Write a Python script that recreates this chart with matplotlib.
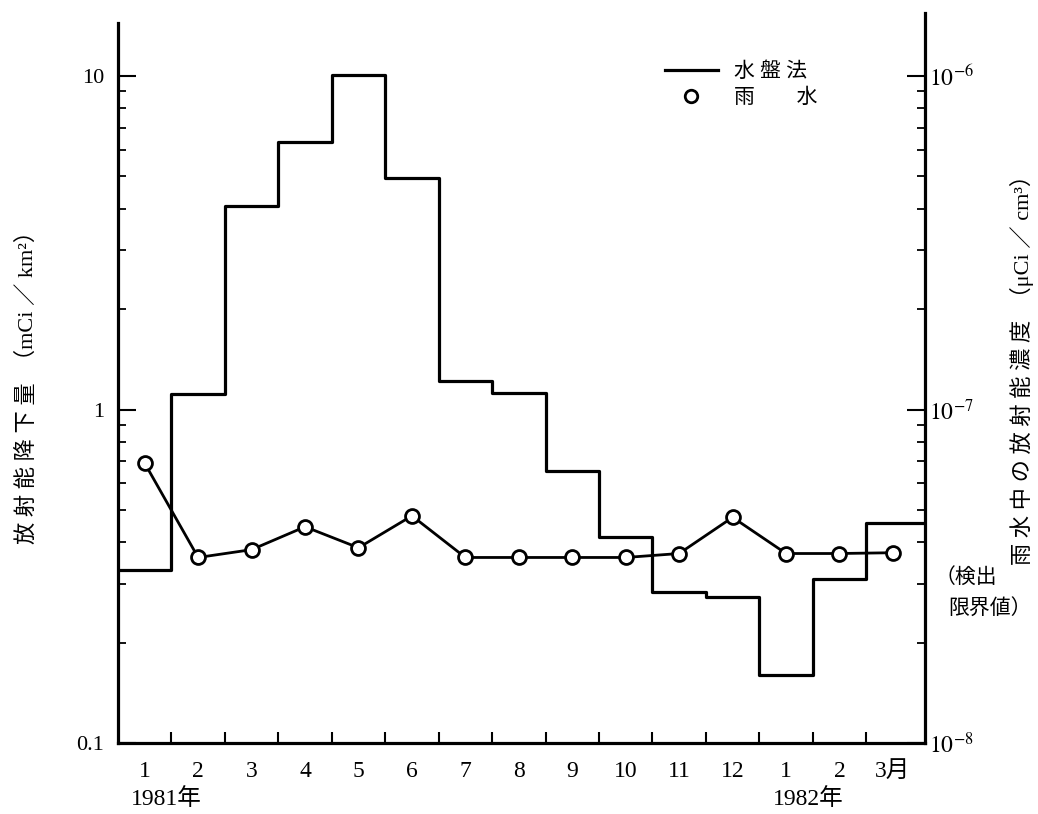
import numpy as np
import matplotlib
matplotlib.use("Agg")
import matplotlib.pyplot as plt
from matplotlib.lines import Line2D
from matplotlib.ticker import FixedLocator, NullFormatter, LogLocator

plt.rcParams['font.family'] = ['Liberation Serif', 'Noto Sans CJK JP']
plt.rcParams['mathtext.fontset'] = 'stix'

# 1981/1 .. 1982/3
months = np.arange(1, 16)
month_labels = ["1", "2", "3", "4", "5", "6", "7", "8", "9", "10", "11", "12", "1", "2", "3月"]
# 水盤法  mCi/km2
fallout = [0.33, 1.11, 4.07, 6.34, 10.1, 4.94, 1.22, 1.12, 0.655, 0.415, 0.284, 0.274, 0.16, 0.31, 0.457]
# 雨水  uCi/cm3
rain = [6.9e-8, 3.6e-8, 3.8e-8, 4.45e-8, 3.85e-8, 4.8e-8, 3.6e-8, 3.6e-8, 3.6e-8, 3.6e-8,
        3.7e-8, 4.75e-8, 3.7e-8, 3.7e-8, 3.72e-8]

x_lo, x_hi = 0.5, 15.6
y_lo, y_hi = 0.1, 15.45

fig = plt.figure(figsize=(10.38, 8.14), dpi=100)
ax = fig.add_axes([118/1038, 1-743/814, (925-118)/1038, (743-13)/814])
ax2 = ax.twinx()

edges = np.append(months - 0.5, x_hi)
ax.step(edges, fallout + [fallout[-1]], where='post', color='black', lw=2.3)
ax2.plot(months, rain, color='black', lw=2.0, marker='o', ms=10, mfc='white', mec='black', mew=2.0)

ax.set_xlim(x_lo, x_hi)
ax.set_yscale('log')
ax.set_ylim(y_lo, y_hi)
ax2.set_yscale('log')
ax2.set_ylim(y_lo*1e-7, y_hi*1e-7)

for a in (ax, ax2):
    for s in a.spines.values():
        s.set_linewidth(2.3)
    a.spines['top'].set_visible(False)
ax.spines['left'].set_bounds(y_lo, 14.4)
ax.spines['right'].set_visible(False)
ax2.spines['left'].set_visible(False)
ax2.spines['bottom'].set_visible(False)

# x ticks: boundaries as ticks, labels at month centers
ax.xaxis.set_major_locator(FixedLocator(months[:-1] + 0.5))
ax.xaxis.set_major_formatter(NullFormatter())
ax.xaxis.set_minor_locator(FixedLocator(months))
ax.set_xticklabels(month_labels, minor=True)
ax.tick_params(axis='x', which='major', direction='in', length=8, width=1.5)
ax.tick_params(axis='x', which='minor', length=0, pad=13, labelsize=17)

ax.set_yticks([0.1, 1, 10])
ax.set_yticklabels(["0.1", "1", "10"])
ax.yaxis.set_minor_locator(LogLocator(base=10, subs=np.arange(2, 10)))
ax.yaxis.set_minor_formatter(NullFormatter())
ax.tick_params(axis='y', which='major', direction='in', length=13, width=1.5, labelsize=16, pad=10)
ax.tick_params(axis='y', which='minor', direction='in', length=6, width=1.3)

ax2.set_yticks([1e-8, 1e-7, 1e-6])
ax2.set_yticklabels([r"$10^{-8}$", r"$10^{-7}$", r"$10^{-6}$"])
ax2.yaxis.set_minor_locator(LogLocator(base=10, subs=np.arange(2, 10)))
ax2.yaxis.set_minor_formatter(NullFormatter())
ax2.tick_params(axis='y', which='major', direction='in', length=13, width=1.5, labelsize=17, pad=3)
ax2.tick_params(axis='y', which='minor', direction='in', length=6, width=1.3)

ax.set_ylabel("放 射 能 降 下 量  （mCi ／ km²）", fontsize=16, va='center')
ax.yaxis.set_label_coords(-0.112, 0.495)
ax2.set_ylabel("雨 水 中 の 放 射 能 濃 度  （μCi ／ cm³）", fontsize=16, rotation=90, va='center')
ax2.yaxis.set_label_coords(1.12, 0.518)

fig.text(935/1038, 1-578/814, "（検出", fontsize=15, va='center', ha='left')
fig.text(948/1038, 1-610/814, "限界値）", fontsize=15, va='center', ha='left')
fig.text(166/1038, 1-799/814, "1981年", fontsize=17, va='center', ha='center')
fig.text(808/1038, 1-799/814, "1982年", fontsize=17, va='center', ha='center')

handles = [Line2D([], [], color='black', lw=2.3),
           Line2D([], [], ls='none', marker='o', ms=9, mfc='white', mec='black', mew=2.0)]
ax.legend(handles, ["水 盤 法", "雨　　水"], loc='upper left', bbox_to_anchor=(655/1038, 1-52/814),
          bbox_transform=fig.transFigure, frameon=False, fontsize=15, handlelength=2.5,
          handletextpad=0.8, labelspacing=0.3, borderpad=0)

fig.savefig("out.png", dpi=100)
